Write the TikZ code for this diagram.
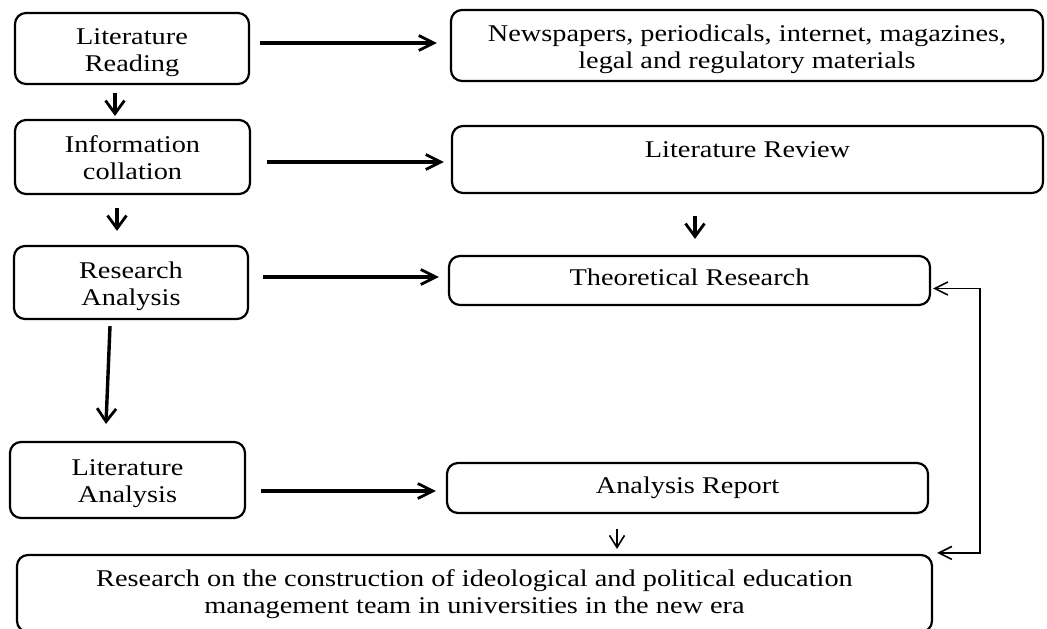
\documentclass[tikz,border=0pt]{standalone}
\usepackage{fontspec}
\setmainfont{Liberation Serif}[FakeStretch=1.18]
\usetikzlibrary{arrows.meta}
\newcommand{\boxtxt}[2]{\raisebox{#2}[\height][\depth]{\begin{tabular}{@{}c@{}}#1\end{tabular}}}
\begin{document}
\begin{tikzpicture}[x=1pt,y=-1pt,
  box/.style={draw, line width=2.2pt, rounded corners=11pt, align=center, inner sep=0pt,
    font=\fontsize{24}{26.7}\selectfont},
  harr/.style={line width=3.4pt, -{Straight Barb[length=15pt,width=15pt,line width=2.8pt]}},
  varr/.style={line width=3.4pt, -{Straight Barb[length=13pt,width=19pt,line width=2.8pt]}},
  thinarr/.style={line width=1.7pt, -{Straight Barb[length=12pt,width=15pt,line width=1.6pt]}},
  fb/.style={line width=1.8pt, {Straight Barb[length=13pt,width=13pt,line width=1.6pt]}-{Straight Barb[length=13pt,width=13pt,line width=1.6pt]}}
]
\useasboundingbox (0,0) rectangle (1047,629);
\fill[white] (0,0) rectangle (1047,629);
\begin{scope}
\clip (0,0) rectangle (1047,629);
\node[box, minimum width=234pt, minimum height=71pt] (LR) at (132,48.5) {\boxtxt{Literature\\Reading}{-4pt}};
\node[box, minimum width=592pt, minimum height=71pt] (NP) at (747,45.5) {\boxtxt{Newspapers, periodicals, internet, magazines,\\legal and regulatory materials}{-4pt}};
\node[box, minimum width=235pt, minimum height=74pt] (IC) at (132.5,157) {\boxtxt{Information\\collation}{-4pt}};
\node[box, minimum width=591pt, minimum height=67pt] (LRV) at (747.5,159.5) {\boxtxt{Literature Review}{7pt}};
\node[box, minimum width=234pt, minimum height=73pt] (RA) at (131,282.5) {\boxtxt{Research\\Analysis}{-4pt}};
\node[box, minimum width=481pt, minimum height=49pt] (TR) at (689.5,280.5) {\boxtxt{Theoretical Research}{0pt}};
\node[box, minimum width=235pt, minimum height=76pt] (LA) at (127.5,480) {\boxtxt{Literature\\Analysis}{-4pt}};
\node[box, minimum width=481pt, minimum height=50pt] (AR) at (687.5,488) {\boxtxt{Analysis Report}{0pt}};
\node[box, minimum width=915pt, minimum height=77pt] (BT) at (474.5,593.5) {\boxtxt{Research on the construction of ideological and political education\\management team in universities in the new era}{-1pt}};

\draw[harr] ([xshift=10pt,yshift=5.5pt]LR.east) -- ([xshift=-13pt,yshift=2.5pt]NP.west);
\draw[varr] ([xshift=-17pt,yshift=-8pt]LR.south) -- ([xshift=-17.5pt,yshift=3pt]IC.north);
\draw[harr] ([xshift=16pt,yshift=-5pt]IC.east) -- ([xshift=-7pt,yshift=-2.5pt]LRV.west);
\draw[varr] ([xshift=-15.5pt,yshift=-13pt]IC.south) -- ([xshift=-14pt,yshift=14pt]RA.north);
\draw[varr] ([xshift=-52.5pt,yshift=-22pt]LRV.south) -- ([xshift=5.5pt,yshift=16pt]TR.north);
\draw[harr] ([xshift=14pt,yshift=5.5pt]RA.east) -- ([xshift=-9pt,yshift=3.5pt]TR.west);
\draw[varr] ([xshift=-21pt,yshift=-6pt]RA.south) -- ([xshift=-21.5pt,yshift=17pt]LA.north);
\draw[harr] ([xshift=15pt,yshift=-11pt]LA.east) -- ([xshift=-10pt,yshift=-3pt]AR.west);
\draw[thinarr] ([xshift=-70.5pt,yshift=-15pt]AR.south) -- ([xshift=142.5pt,yshift=5pt]BT.north);
\draw[fb] ([xshift=2pt,yshift=-8pt]TR.east) -- ++(47,0) |- ([xshift=4pt,yshift=1pt]BT.north east);
\end{scope}
\end{tikzpicture}
\end{document}
